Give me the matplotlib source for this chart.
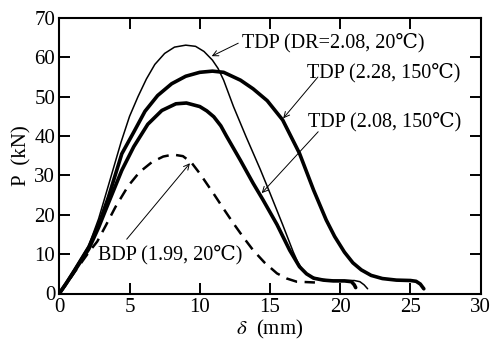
import matplotlib
matplotlib.use("Agg")
import matplotlib.pyplot as plt

# ---- data ----
thin_x = [0, 0.5, 1.1, 2.1, 2.8, 3.5, 4.4, 5.0, 5.6, 6.2, 6.8, 7.5, 8.2, 9.0, 9.7, 10.3, 10.9, 11.3, 11.7,
          12.4, 13.3, 14.3, 15.0, 15.9, 16.65, 17.0, 17.3, 17.6, 18.0, 18.5, 19.2, 20.0, 21.0, 21.4, 21.7, 21.95]
thin_y = [0, 2.8, 6.3, 12.2, 19.0, 27.5, 38.5, 45, 50, 54.5, 58.2, 61, 62.6, 63.1, 62.8, 61.5, 59.3, 57.2, 54.2,
          47.5, 39.8, 31.6, 25.5, 17.5, 10.6, 7.8, 6.1, 5.0, 4.2, 3.7, 3.4, 3.3, 3.3, 3.0, 2.2, 1.2]

t228_x = [0, 0.5, 1.1, 2.1, 2.8, 3.5, 4.45, 5.3, 6.1, 7.0, 8.0, 9.0, 10.0, 10.9, 11.7, 12.9, 13.8, 14.8,
          15.9, 17.1, 18.1, 19.0, 19.6, 20.3, 20.9, 21.5, 22.2, 23.0, 24.0, 25.0, 25.4, 25.7, 25.95]
t228_y = [0, 2.6, 6.0, 11.8, 17.5, 24.5, 35.5, 41, 46.3, 50.3, 53.3, 55.2, 56.2, 56.5, 56.2, 54.2, 52, 49.0,
          44.1, 35.6, 26.3, 18.7, 14.5, 10.5, 7.8, 6.0, 4.6, 3.8, 3.4, 3.3, 3.1, 2.4, 1.2]

t208_x = [0, 0.5, 1.1, 2.1, 2.8, 3.5, 4.45, 5.3, 6.3, 7.3, 8.3, 9.05, 10.0, 10.5, 11.0, 11.5, 11.9, 12.9, 13.8,
          14.5, 15.5, 16.4, 17.1, 17.6, 18.1, 18.8, 19.5, 20.3, 20.8, 21.0, 21.1]
t208_y = [0, 2.6, 5.8, 11.3, 16.8, 23, 31.3, 37.3, 43, 46.5, 48.2, 48.4, 47.5, 46.4, 44.9, 42.6, 40.0, 33.8, 28.0,
          23.8, 17.5, 11.0, 6.8, 5.0, 3.9, 3.4, 3.2, 3.2, 3.0, 2.2, 1.5]

bdp_x = [0, 0.5, 1.1, 2.1, 2.7, 3.3, 4.0, 4.9, 5.7, 6.6, 7.4, 8.1, 8.8, 9.4, 10.0, 10.96, 11.7, 12.4,
         13.1, 13.8, 14.6, 15.5, 16.2, 16.9, 17.6, 18.2]
bdp_y = [0, 2.4, 5.5, 10.5, 13.2, 17.2, 22, 27.3, 30.8, 33.4, 34.8, 35.3, 34.9, 33.3, 30.5, 25.5, 21.5, 17.8,
         14.3, 11.0, 7.9, 5.1, 3.8, 3.0, 2.9, 2.8]

labels = ["TDP (DR=2.08, 20\u2103)", "TDP (2.28, 150\u2103)", "TDP (2.08, 150\u2103)", "BDP (1.99, 20\u2103)"]
label_xy = [(12.98, 63.7), (17.61, 56.0), (17.70, 43.6), (2.75, 9.8)]
arrow_head = [(10.85, 60.3), (15.94, 44.5), (14.41, 25.5), (9.30, 33.1)]
arrow_tail = [(12.74, 63.6), (18.41, 55.0), (18.43, 41.1), (4.80, 13.8)]

x_ticks = [0, 5, 10, 15, 20, 25, 30]
y_ticks = [0, 10, 20, 30, 40, 50, 60, 70]

plt.rcParams['font.family'] = ['Liberation Serif', 'DejaVu Serif']
plt.rcParams['mathtext.fontset'] = 'stix'

fig = plt.figure(figsize=(4.91, 3.42), dpi=100)
ax = fig.add_axes([59.3 / 491, 1 - 293.5 / 342, (480.7 - 59.3) / 491, (293.5 - 18) / 342])

ax.plot(thin_x, thin_y, color='black', lw=1.1, solid_capstyle='round', solid_joinstyle='round')
ax.plot(t228_x, t228_y, color='black', lw=2.6, solid_capstyle='round', solid_joinstyle='round')
ax.plot(t208_x, t208_y, color='black', lw=2.6, solid_capstyle='round', solid_joinstyle='round')
ax.plot(bdp_x, bdp_y, color='black', lw=1.8, dashes=(4.5, 3.0))

for lab, txy, h, t in zip(labels, label_xy, arrow_head, arrow_tail):
    ax.text(txy[0], txy[1], lab, fontsize=14.5, ha='left', va='center')
    ax.annotate('', xy=h, xytext=t,
                arrowprops=dict(arrowstyle='->', color='black', lw=0.7,
                                mutation_scale=10, shrinkA=0, shrinkB=0))

ax.set_xlim(0, 30)
ax.set_ylim(0, 70)
ax.set_xticks(x_ticks)
ax.set_yticks(y_ticks)
ax.tick_params(direction='in', length=8, width=1.4, top=True, right=True,
               labelsize=15, pad=3)
for s in ax.spines.values():
    s.set_linewidth(1.5)

ax.set_xlabel(r'$\delta$  (mm)', fontsize=15, labelpad=1)
ax.set_ylabel('P  (kN)', fontsize=15, labelpad=2)

fig.savefig('out.png', dpi=100)
